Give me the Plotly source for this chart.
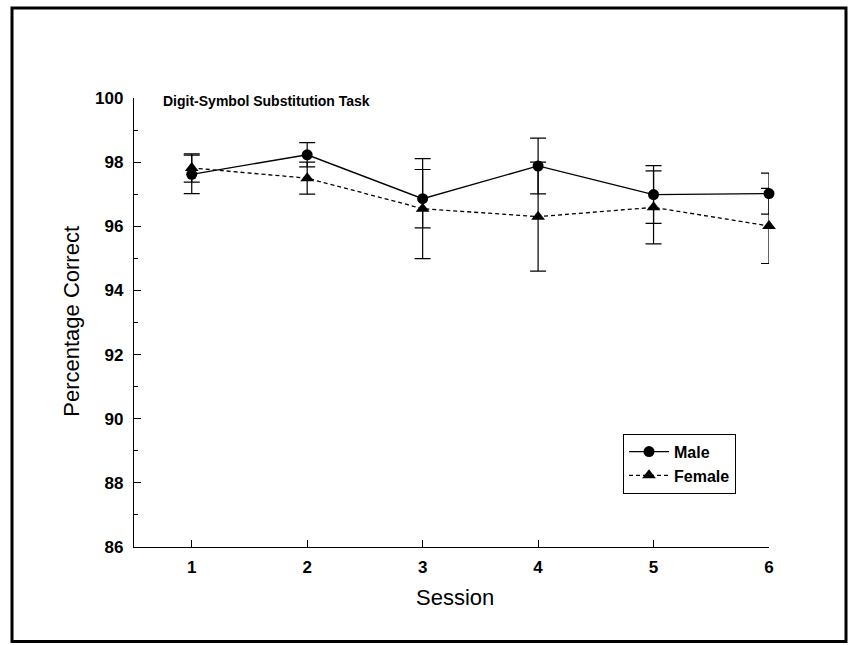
import plotly.graph_objects as go

# Mean percentage correct per session, with error-bar half-widths
sessions = [1, 2, 3, 4, 5, 6]
male_pct = [97.62, 98.23, 96.86, 97.88, 96.99, 97.02]
male_err = [0.60, 0.38, 0.91, 0.87, 0.90, 0.64]
female_pct = [97.82, 97.50, 96.55, 96.30, 96.59, 96.01]
female_err = [0.44, 0.50, 1.56, 1.70, 1.14, 1.17]

y_ticks = [86, 88, 90, 92, 94, 96, 98, 100]
x_ticks = [1, 2, 3, 4, 5, 6]

FONT = "Liberation Sans, Arial, sans-serif"

fig = go.Figure()

fig.add_trace(go.Scatter(
    x=sessions, y=male_pct, name="<b>Male</b>", mode="lines+markers",
    cliponaxis=False,
    line=dict(color="black", width=1.3),
    marker=dict(symbol="circle", size=11, color="black"),
    error_y=dict(type="data", array=male_err, visible=True,
                 color="black", thickness=1.2, width=8),
))
fig.add_trace(go.Scatter(
    x=sessions, y=female_pct, name="<b>Female</b>", mode="lines+markers",
    cliponaxis=False,
    line=dict(color="black", width=1.3, dash="4px,3px"),
    marker=dict(symbol="triangle-up", size=12, color="black"),
    error_y=dict(type="data", array=female_err, visible=True,
                 color="black", thickness=1.2, width=8),
))

# plot area: x 134..769 px, y 98..547.5 px
L, R, T, B = 134, 82, 98, 97.5
W, H = 851, 645
pw, ph = W - L - R, H - T - B


def px(xp):
    return (xp - L) / pw


def py(yp):
    return (H - B - yp) / ph


fig.update_layout(
    width=W, height=H,
    margin=dict(l=L, r=R, t=T, b=B),
    paper_bgcolor="white", plot_bgcolor="white",
    font=dict(family=FONT, color="black", size=17),
    showlegend=True,
    legend=dict(
        x=px(623), y=py(434), xanchor="left", yanchor="top",
        bordercolor="black", borderwidth=1, bgcolor="white",
        font=dict(size=16, family=FONT), itemwidth=40,
        tracegroupgap=0,
    ),
    xaxis=dict(
        range=[0.5, 6.0], tickvals=x_ticks,
        ticktext=["<b>%d</b>" % v for v in x_ticks],
        showline=True, linecolor="black", linewidth=1.3,
        ticks="inside", ticklen=7, tickwidth=1.2, tickcolor="black",
        showgrid=False, zeroline=False, mirror=False,
        tickfont=dict(size=17, family=FONT), ticklabelstandoff=4,
    ),
    yaxis=dict(
        range=[86, 100], tickvals=y_ticks,
        ticktext=["<b>%d</b>" % v for v in y_ticks],
        showline=True, linecolor="black", linewidth=1.3,
        ticks="inside", ticklen=7, tickwidth=1.2, tickcolor="black",
        minor=dict(dtick=1, tick0=86, ticks="inside", ticklen=4,
                   tickwidth=1, tickcolor="black", showgrid=False),
        showgrid=False, zeroline=False, mirror=False,
        tickfont=dict(size=17, family=FONT), ticklabelstandoff=6,
    ),
    annotations=[
        dict(text="<b>Digit-Symbol Substitution Task</b>", xref="paper", yref="paper",
             x=px(161), y=py(101), xanchor="left", yanchor="middle",
             showarrow=False, font=dict(size=14, family=FONT)),
        dict(text="Percentage Correct", xref="paper", yref="paper",
             x=px(72), y=py(322), xanchor="center", yanchor="middle",
             textangle=-90, showarrow=False, font=dict(size=22, family=FONT)),
        dict(text="Session", xref="paper", yref="paper",
             x=px(455), y=py(598), xanchor="center", yanchor="middle",
             showarrow=False, font=dict(size=22, family=FONT)),
    ],
    shapes=[
        dict(type="rect", xref="paper", yref="paper",
             x0=px(12), x1=px(846), y0=py(642), y1=py(8),
             line=dict(color="black", width=3), fillcolor="rgba(0,0,0,0)",
             layer="below"),
    ],
)

fig.write_html("out.html")
